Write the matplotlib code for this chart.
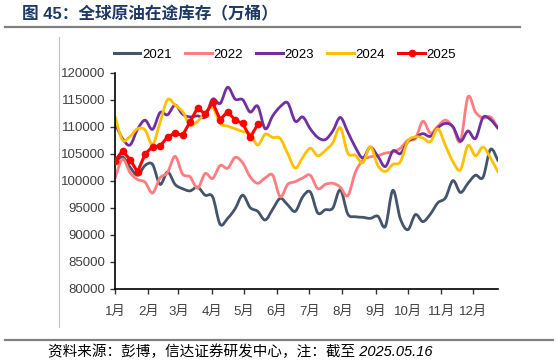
import numpy as np
import matplotlib
matplotlib.use("Agg")
import matplotlib.pyplot as plt
from matplotlib.path import Path
from matplotlib.patches import PathPatch
from matplotlib.lines import Line2D

plt.rcParams['font.family'] = ['Liberation Sans', 'Noto Sans CJK SC']
plt.rcParams['axes.unicode_minus'] = False

# weekly values (万桶), week 0 = early January
y2021 = [103300, 104400, 102500, 101000, 102800, 103000, 99300, 101600, 99300, 98500,
         98100, 98800, 97300, 97000, 91900, 93000, 94800, 97300, 95000, 94300,
         92700, 94700, 96700, 95500, 94300, 97000, 97900, 94000, 94600, 94900,
         98300, 93800, 93300, 93200, 93000, 93400, 91500, 98200, 92900, 90900,
         93700, 92400, 93800, 95900, 96800, 100000, 97800, 99500, 101000, 100600,
         105800, 103700]
y2022 = [100400, 104000, 101500, 100200, 99700, 97700, 100500, 101500, 104500, 101200,
         100700, 98600, 101300, 100400, 102800, 102300, 104300, 103300, 100700, 99500,
         100500, 101000, 97000, 99300, 99800, 100500, 101000, 98500, 99300, 99500,
         98800, 97200, 101500, 103800, 104400, 104600, 105100, 105300, 106000, 107500,
         107800, 111000, 108800, 110100, 111200, 109900, 107300, 115500, 112700, 111600,
         111800, 109700]
y2023 = [110600, 107800, 106600, 109500, 111200, 109500, 112600, 112200, 114000, 112300,
         111800, 112000, 111800, 115100, 114300, 117300, 115100, 115000, 112700, 113800,
         109600, 112000, 113700, 114400, 111000, 111800, 109600, 108000, 107600, 109200,
         111700, 109000, 106200, 104200, 106200, 104500, 102600, 105500, 105000, 107200,
         108000, 108700, 108200, 109800, 110600, 110000, 107300, 109200, 107800, 111700,
         111300, 109700]
y2024 = [111900, 107500, 108200, 109600, 109400, 106700, 110800, 115000, 114000, 112800,
         110300, 111000, 112500, 113600, 110600, 110100, 109600, 109100, 108700, 106600,
         108600, 108000, 107800, 105000, 102300, 104300, 106000, 104600, 105600, 107000,
         109800, 105100, 104700, 103300, 106300, 102800, 101700, 103000, 103500, 107300,
         108100, 107900, 107200, 109600, 106500, 103500, 102000, 106500, 104600, 106200,
         104200, 101600]
y2025 = [103700, 105500, 103900, 101600, 104900, 106300, 106400, 108100, 108800, 108400,
         110900, 113500, 112300, 114500, 111300, 112800, 111200, 110600, 108000, 110400]

years = ['2021', '2022', '2023', '2024', '2025']
colors = ['#44546A', '#FF7C80', '#7030A0', '#FFC000', '#FF0000']
month_days = [0, 31, 59, 90, 120, 151, 181, 212, 243, 273, 304, 334]
month_labels = ['1月', '2月', '3月', '4月', '5月', '6月', '7月', '8月', '9月', '10月', '11月', '12月']


def smooth_path(x, y):
    # Excel-style smoothed line (Catmull-Rom as cubic bezier)
    pts = np.column_stack([x, y]).astype(float)
    n = len(pts)
    verts = [pts[0]]
    codes = [Path.MOVETO]
    for i in range(n - 1):
        p0 = pts[i - 1] if i > 0 else pts[i]
        p1, p2 = pts[i], pts[i + 1]
        p3 = pts[i + 2] if i + 2 < n else pts[i + 1]
        verts += [p1 + (p2 - p0) / 6, p2 - (p3 - p1) / 6, p2]
        codes += [Path.CURVE4] * 3
    return Path(verts, codes)


fig = plt.figure(figsize=(5.57, 3.64), dpi=100)
ax = fig.add_axes([115 / 557, 1 - 288.5 / 364, (498 - 115) / 557, (288.5 - 72.7) / 364])

for vals, c in zip([y2021, y2022, y2023, y2024], colors[:4]):
    x = np.arange(len(vals)) * 7
    ax.add_patch(PathPatch(smooth_path(x, vals), facecolor='none', edgecolor=c,
                           lw=2.0, capstyle='round', joinstyle='round'))

x25 = np.arange(len(y2025)) * 7
ax.plot(x25, y2025, color=colors[4], lw=2.2, marker='o', markersize=4.5, zorder=5)

ax.set_xlim(0, 357)
ax.set_ylim(80000, 120000)
ax.set_yticks(np.arange(80000, 120001, 5000))
ax.set_xticks(month_days)
ax.set_xticklabels(month_labels)
for s in ['top', 'right']:
    ax.spines[s].set_visible(False)
for s in ['left', 'bottom']:
    ax.spines[s].set_linewidth(1.2)
    ax.spines[s].set_color('black')
ax.tick_params(axis='both', direction='out', length=3.5, width=1.0, labelsize=9.5,
               colors='#333333', labelcolor='#404040')
ax.tick_params(axis='x', pad=9)

handles = [Line2D([], [], color=c, lw=2.2) for c in colors[:4]]
handles.append(Line2D([], [], color=colors[4], lw=2.2, marker='o', markersize=4.5))
fig.legend(handles, years, loc='center', bbox_to_anchor=(0.512, 1 - 55 / 364), ncol=5,
           frameon=False, fontsize=9.5, handlelength=2.0, handletextpad=0.15,
           columnspacing=1.0)

# title, rules and source
fig.text(22 / 557, 1 - 14 / 364, '图 45：全球原油在途库存（万桶）', fontsize=12,
         fontweight='bold', color='#1F3864', va='center', ha='left')
fig.add_artist(Line2D([5 / 557, 520 / 557], [1 - 27 / 364] * 2, color='#808080', lw=1.6))
fig.add_artist(Line2D([59 / 557, 59 / 557], [1 - 37 / 364, 1 - 327 / 364],
                      color='#BFBFBF', lw=0.8))
fig.add_artist(Line2D([5 / 557, 553 / 557], [1 - 340 / 364] * 2, color='#808080', lw=1.6))
fig.text(48 / 557, 1 - 352 / 364, '资料来源：彭博，信达证券研发中心，注：截至 2025.05.16',
         fontsize=10.5, style='italic', color='black', va='center', ha='left')

fig.savefig('out.png', dpi=100)
